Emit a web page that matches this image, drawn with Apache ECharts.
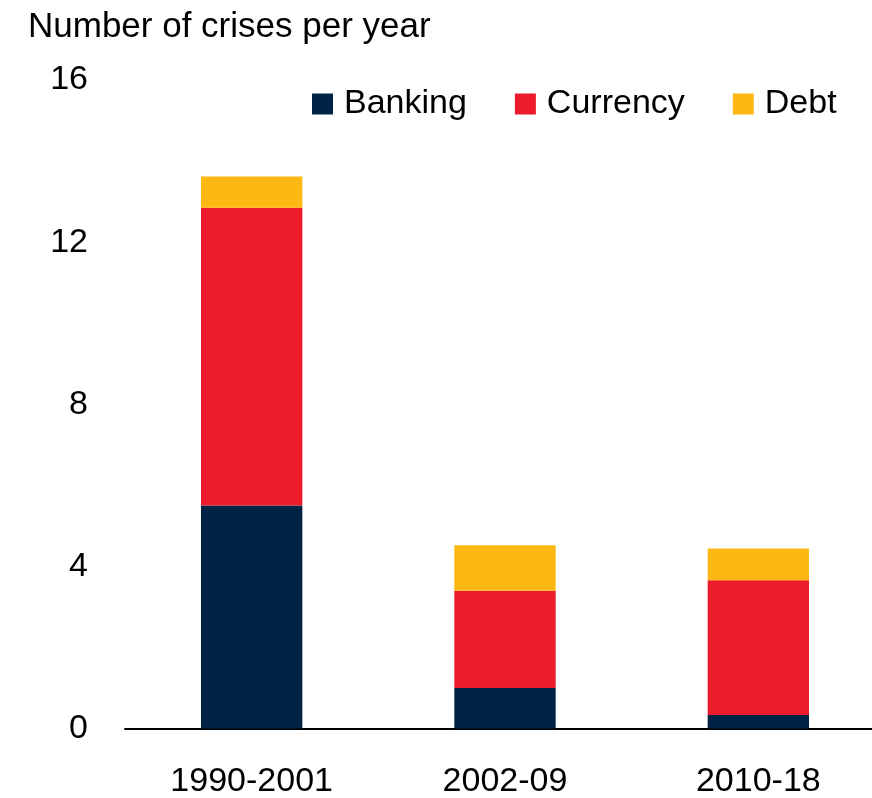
<!DOCTYPE html>
<html>
<head>
<meta charset="utf-8">
<script src="https://cdn.jsdelivr.net/npm/echarts@6/dist/echarts.min.js"></script>
<style>html,body{margin:0;padding:0;background:#fff;}#c{width:872px;height:798px;}</style>
</head>
<body>
<div id="c"></div>
<script>
const categories = ['1990-2001', '2002-09', '2010-18'];
const banking = [5.5, 1.0, 0.33];
const currency = [7.35, 2.4, 3.33];
const debt = [0.77, 1.12, 0.78];
const yTicks = [0, 4, 8, 12, 16];

const FONT = '"Liberation Sans", Arial, sans-serif';
const chart = echarts.init(document.getElementById('c'));
chart.setOption({
  animation: false,
  backgroundColor: '#fff',
  title: {
    text: 'Number of crises per year',
    left: 23, top: 5,
    textStyle: { fontFamily: FONT, fontSize: 35, fontWeight: 'normal', color: '#000' }
  },
  legend: {
    left: 307, top: 82,
    itemWidth: 21, itemHeight: 21, itemGap: 48,
    icon: 'rect',
    textStyle: { fontFamily: FONT, fontSize: 34, color: '#000', padding: [0, 0, 0, 6] },
    data: ['Banking', 'Currency', 'Debt']
  },
  grid: { left: 125, top: 80, width: 760, bottom: 69.5, containLabel: false, outerBoundsMode: 'none' },
  xAxis: {
    type: 'category', data: categories,
    axisLine: { lineStyle: { color: '#000', width: 2 } },
    axisTick: { show: false },
    axisLabel: { fontFamily: FONT, fontSize: 34, color: '#000', margin: 36 }
  },
  yAxis: {
    type: 'value', min: yTicks[0], max: yTicks[yTicks.length - 1], interval: 4,
    axisLine: { show: false }, axisTick: { show: false }, splitLine: { show: false },
    axisLabel: { fontFamily: FONT, fontSize: 34, color: '#000', margin: 37 }
  },
  series: [
    { name: 'Banking', type: 'bar', stack: 's', data: banking, barWidth: '40%', itemStyle: { color: '#002245' } },
    { name: 'Currency', type: 'bar', stack: 's', data: currency, itemStyle: { color: '#EC1C2D' } },
    { name: 'Debt', type: 'bar', stack: 's', data: debt, itemStyle: { color: '#FDB813' } }
  ]
});
</script>
</body>
</html>
